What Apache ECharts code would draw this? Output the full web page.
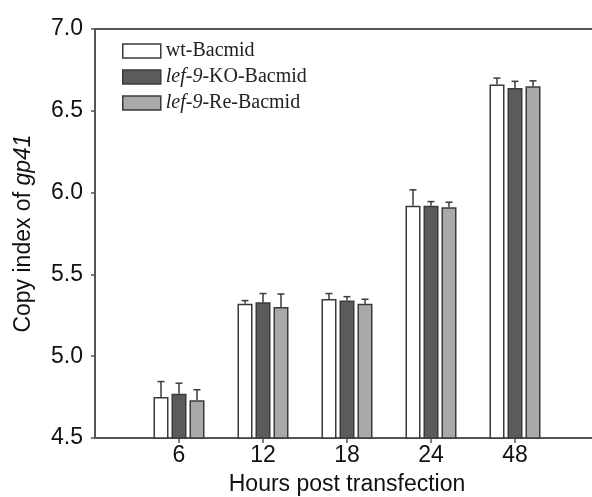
<!DOCTYPE html>
<html>
<head>
<meta charset="utf-8">
<script src="https://cdn.jsdelivr.net/npm/echarts@6/dist/echarts.min.js"></script>
<style>
  html, body { margin: 0; padding: 0; background: #fff; }
  #chart { width: 592px; height: 497px; }
</style>
</head>
<body>
<div id="chart"></div>
<script>
// hours post transfection
const hours = ['6', '12', '18', '24', '48'];
const seriesNames = ['wt-Bacmid', 'lef-9-KO-Bacmid', 'lef-9-Re-Bacmid'];
const wtValues = [4.75, 5.32, 5.35, 5.92, 6.66];
const koValues = [4.77, 5.33, 5.34, 5.92, 6.64];
const reValues = [4.73, 5.30, 5.32, 5.91, 6.65];
const wtErrors = [0.095, 0.02, 0.033, 0.097, 0.04];
const koErrors = [0.065, 0.053, 0.024, 0.025, 0.04];
const reErrors = [0.065, 0.08, 0.028, 0.031, 0.033];
const yTicks = [4.5, 5.0, 5.5, 6.0, 6.5, 7.0];

const fills = ['#ffffff', '#5b5b5b', '#a9a9a9'];
const edge = '#3a3a3a';
const barW = 15;
const barStep = 18;

// empty slots at both ends so the groups sit like the original
const categories = [''].concat(hours, ['']);
const pad = arr => ['-'].concat(arr, ['-']);

const values = [wtValues, koValues, reValues];
const errors = [wtErrors, koErrors, reErrors];

const chart = echarts.init(document.getElementById('chart'));

const barSeries = seriesNames.map((name, i) => ({
  name: name,
  type: 'bar',
  barWidth: barW,
  barGap: '20%',
  data: pad(values[i]),
  itemStyle: { color: fills[i], borderColor: edge, borderWidth: 1.5 },
  z: 3
}));

const errSeries = seriesNames.map((name, i) => ({
  type: 'custom',
  silent: true,
  z: 2,
  data: values[i].map((v, j) => [j + 1, v, v + errors[i][j]]),
  renderItem: (params, api) => {
    const low = api.coord([api.value(0), api.value(1)]);
    const high = api.coord([api.value(0), api.value(2)]);
    const x = low[0] + (i - 1) * barStep;
    const style = { stroke: edge, lineWidth: 1.5 };
    return {
      type: 'group',
      children: [
        { type: 'line', shape: { x1: x, y1: low[1], x2: x, y2: high[1] }, style: style },
        { type: 'line', shape: { x1: x - 3.5, y1: high[1], x2: x + 3.5, y2: high[1] }, style: style }
      ]
    };
  }
}));

const option = {
  animation: false,
  backgroundColor: '#fff',
  grid: {
    left: 95, top: 29, width: 504, bottom: 59,
    outerBoundsMode: 'none',
    containLabel: false,
    show: true, borderColor: '#555', borderWidth: 2, backgroundColor: 'transparent'
  },
  legend: {
    data: seriesNames,
    orient: 'vertical',
    left: 117,
    top: 36,
    itemWidth: 38,
    itemHeight: 14,
    itemGap: 6,
    selectedMode: false,
    icon: 'rect',
    itemStyle: { borderColor: edge, borderWidth: 1.5 },
    formatter: name => {
      if (name.startsWith('lef-9')) {
        return '{i|lef-9}{n|' + name.slice(5) + '}';
      }
      return '{n|' + name + '}';
    },
    textStyle: {
      rich: {
        i: { fontFamily: 'Liberation Serif', fontStyle: 'italic', fontSize: 20, lineHeight: 20, color: '#222' },
        n: { fontFamily: 'Liberation Serif', fontSize: 20, lineHeight: 20, color: '#222' }
      }
    }
  },
  xAxis: {
    type: 'category',
    data: categories,
    boundaryGap: false,
    name: 'Hours post transfection',
    nameLocation: 'middle',
    nameGap: 35,
    nameTextStyle: { fontFamily: 'Liberation Sans', fontSize: 23, color: '#111' },
    axisLine: { lineStyle: { color: '#555', width: 2 } },
    axisTick: {
      length: 5,
      interval: (idx, val) => val !== '',
      lineStyle: { color: '#555', width: 1.5 }
    },
    axisLabel: {
      margin: 6,
      interval: 0,
      fontFamily: 'Liberation Sans',
      fontSize: 23,
      color: '#111'
    },
    splitLine: { show: false }
  },
  yAxis: {
    type: 'value',
    min: yTicks[0],
    max: yTicks[yTicks.length - 1],
    interval: 0.5,
    name: '{n|Copy index of }{i|gp41}',
    nameLocation: 'middle',
    nameGap: 60,
    nameTextStyle: {
      rich: {
        n: { fontFamily: 'Liberation Sans', fontSize: 23, color: '#111' },
        i: { fontFamily: 'Liberation Sans', fontStyle: 'italic', fontSize: 23, color: '#111' }
      }
    },
    axisLine: { show: true, lineStyle: { color: '#555', width: 2 } },
    axisTick: { show: true, length: 4, lineStyle: { color: '#555', width: 1.5 } },
    axisLabel: {
      margin: 12,
      fontFamily: 'Liberation Sans',
      fontSize: 23,
      color: '#111',
      formatter: v => v.toFixed(1)
    },
    splitLine: { show: false }
  },
  series: barSeries.concat(errSeries)
};

chart.setOption(option);
</script>
</body>
</html>
